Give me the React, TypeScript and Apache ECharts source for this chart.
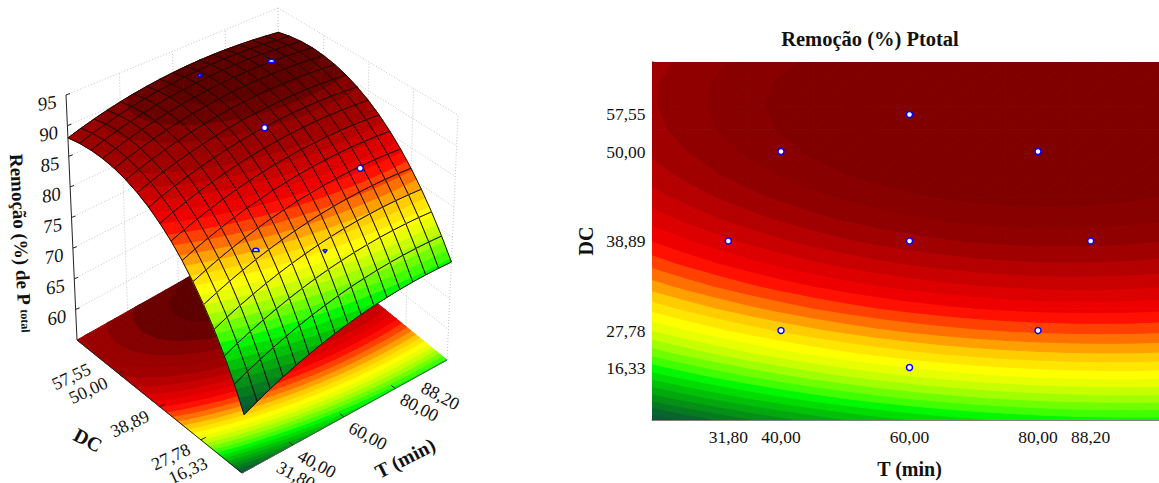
import React, { useEffect, useRef } from "react";
import * as echarts from "echarts";

const tGrid = [20, 25, 30, 35, 40, 45, 50, 55, 60, 65, 70, 75, 80, 85, 90, 95, 100];
const dcGrid = [-2, -1.75, -1.5, -1.25, -1, -0.75, -0.5, -0.25, 0, 0.25, 0.5, 0.75, 1, 1.25, 1.5, 1.75, 2];
const removal = [
  [63.59, 64.54, 65.43, 66.25, 67.00, 67.69, 68.32, 68.88, 69.38, 69.81, 70.17, 70.47, 70.71, 70.88, 70.98, 71.02, 71.00],
  [66.90, 67.84, 68.70, 69.50, 70.24, 70.91, 71.52, 72.06, 72.54, 72.95, 73.29, 73.57, 73.79, 73.94, 74.03, 74.05, 74.01],
  [69.98, 70.89, 71.74, 72.52, 73.24, 73.89, 74.48, 75.00, 75.46, 75.85, 76.18, 76.44, 76.64, 76.77, 76.84, 76.84, 76.77],
  [72.81, 73.71, 74.54, 75.30, 76.00, 76.63, 77.20, 77.70, 78.14, 78.51, 78.82, 79.06, 79.24, 79.36, 79.40, 79.39, 79.30],
  [75.41, 76.29, 77.10, 77.84, 78.52, 79.13, 79.68, 80.17, 80.58, 80.94, 81.23, 81.45, 81.61, 81.70, 81.73, 81.70, 81.60],
  [77.77, 78.63, 79.42, 80.14, 80.80, 81.40, 81.93, 82.39, 82.79, 83.12, 83.39, 83.60, 83.74, 83.81, 83.82, 83.77, 83.65],
  [79.89, 80.73, 81.50, 82.20, 82.85, 83.42, 83.93, 84.38, 84.76, 85.07, 85.33, 85.51, 85.63, 85.69, 85.68, 85.60, 85.46],
  [81.78, 82.59, 83.34, 84.03, 84.65, 85.21, 85.70, 86.13, 86.49, 86.78, 87.02, 87.18, 87.28, 87.32, 87.29, 87.20, 87.04],
  [83.42, 84.22, 84.95, 85.62, 86.22, 86.76, 87.23, 87.64, 87.98, 88.26, 88.47, 88.62, 88.70, 88.72, 88.67, 88.56, 88.38],
  [84.83, 85.60, 86.32, 86.97, 87.55, 88.07, 88.52, 88.91, 89.23, 89.49, 89.69, 89.81, 89.88, 89.88, 89.81, 89.68, 89.48],
  [85.99, 86.75, 87.45, 88.08, 88.64, 89.14, 89.58, 89.94, 90.25, 90.49, 90.66, 90.77, 90.82, 90.79, 90.71, 90.56, 90.34],
  [86.92, 87.66, 88.34, 88.95, 89.50, 89.98, 90.39, 90.74, 91.03, 91.25, 91.40, 91.49, 91.52, 91.48, 91.37, 91.20, 90.97],
  [87.62, 88.34, 88.99, 89.58, 90.11, 90.57, 90.97, 91.30, 91.56, 91.77, 91.90, 91.97, 91.98, 91.92, 91.80, 91.61, 91.35],
  [88.07, 88.77, 89.41, 89.98, 90.49, 90.93, 91.31, 91.62, 91.86, 92.05, 92.16, 92.22, 92.20, 92.12, 91.98, 91.77, 91.50],
  [88.28, 88.97, 89.59, 90.14, 90.63, 91.05, 91.41, 91.70, 91.93, 92.09, 92.19, 92.22, 92.19, 92.09, 91.93, 91.70, 91.41],
  [88.26, 88.93, 89.52, 90.06, 90.53, 90.93, 91.27, 91.54, 91.75, 91.89, 91.97, 91.99, 91.94, 91.82, 91.64, 91.39, 91.08],
  [88.00, 88.64, 89.22, 89.74, 90.19, 90.57, 90.89, 91.15, 91.34, 91.46, 91.52, 91.51, 91.44, 91.31, 91.11, 90.84, 90.52],
];

const bandLevels = [63.4, 64.4, 65.4, 66.4, 67.4, 68.4, 69.4, 70.4, 71.4, 72.4, 73.4, 74.4, 75.4, 76.4, 77.4, 78.4, 79.4, 80.4, 81.4, 82.4, 83.4, 84.4, 85.4, 86.4, 87.4, 88.4, 89.4, 90.4, 91.4];
const lowBandColors = ["#0b5a34", "#08652d", "#067a20", "#049016", "#02a80e", "#01c008", "#00dc00", "#00f800", "#40ff00", "#70ff00", "#a0ff00", "#c8ff00", "#e8ff00", "#ffff00", "#ffe600", "#ffcc00", "#ffa000", "#ff7000", "#ff4000", "#ff1000", "#ee0000", "#dd0000", "#c80000", "#b40000", "#a00000"];
const contourTopColors = ["#900000", "#880000", "#800000", "#800000"];
const surfaceTopColors = ["#990000", "#850000", "#6a0000", "#5e0000"];
const contourColors = [...lowBandColors, ...contourTopColors];
const surfaceColors = [...lowBandColors, ...surfaceTopColors];

const pointsT = [31.8, 40, 40, 60, 60, 60, 80, 80, 88.2];
const pointsDC = [0, -1, 1, -1.414, 0, 1.414, -1, 1, 0];
const pointsZ = [83, 79.8, 88, 77.7, 91.3, 93.3, 85.5, 94, 87];
// How much of each design point the surface leaves visible in the 3D view.
const pointsShown = [0, 0.5, 0, 0.2, 1, 0.2, 1, 0.5, 0];

const tTickLabels = [31.8, 40, 60, 80, 88.2];
const tTickMarks = [40, 60, 80];
const tTopTicks = [30, 40, 50, 60, 70, 80, 90];
const dcPositions = [-1.414, -1, 0, 1, 1.414];
const dcLabels = ["16,33", "27,78", "38,89", "50,00", "57,55"];
const dcTickMarks = [-1, 0, 1];
const zTicks = [60, 65, 70, 75, 80, 85, 90, 95];
const wallT = [40, 60, 80];
const wallDC = [-1, 0, 1];

const SERIF = '"Liberation Serif", serif';
const Z_MIN = 55;
const Z_MAX = 95;

type Pt = [number, number];
function homography(p0: Pt, p1: Pt, p2: Pt, p3: Pt) {
  const dx1 = p1[0] - p2[0], dx2 = p3[0] - p2[0], sx = p0[0] - p1[0] + p2[0] - p3[0];
  const dy1 = p1[1] - p2[1], dy2 = p3[1] - p2[1], sy = p0[1] - p1[1] + p2[1] - p3[1];
  const det = dx1 * dy2 - dx2 * dy1;
  const g = (sx * dy2 - dx2 * sy) / det;
  const h = (dx1 * sy - sx * dy1) / det;
  const a = p1[0] - p0[0] + g * p1[0], b = p3[0] - p0[0] + h * p3[0], c = p0[0];
  const d = p1[1] - p0[1] + g * p1[1], e = p3[1] - p0[1] + h * p3[1], f = p0[1];
  return (u: number, v: number): Pt => {
    const w = g * u + h * v + 1;
    return [(a * u + b * v + c) / w, (d * u + e * v + f) / w];
  };
}
const floorMap = homography([242, 473], [447, 360], [281, 225], [77, 340]);
const topMap = homography([252, 201], [458, 115], [278, 8], [66, 95]);
function proj(t: number, dc: number, z: number): Pt {
  const u = (t - 20) / 80;
  const v = (dc + 2) / 4;
  const a = floorMap(u, v);
  const b = topMap(u, v);
  const w = (z - Z_MIN) / (Z_MAX - Z_MIN);
  return [a[0] + (b[0] - a[0]) * w, a[1] + (b[1] - a[1]) * w];
}

type V = [number, number, number];
function clipPoly(poly: V[], lim: number, above: boolean): V[] {
  const out: V[] = [];
  for (let i = 0; i < poly.length; i++) {
    const a = poly[i];
    const b = poly[(i + 1) % poly.length];
    const ia = above ? a[2] >= lim : a[2] <= lim;
    const ib = above ? b[2] >= lim : b[2] <= lim;
    if (ia) out.push(a);
    if (ia !== ib) {
      const s = (lim - a[2]) / (b[2] - a[2]);
      out.push([a[0] + (b[0] - a[0]) * s, a[1] + (b[1] - a[1]) * s, lim]);
    }
  }
  return out;
}
type Piece = { band: number; pts: V[] };
// One cell cut into value bands; each piece runs a little into the next band,
// which is painted over it afterwards, so no seam shows between bands.
function cellBands(i: number, j: number): Piece[] {
  const n = (r: number, c: number): V => [tGrid[c], dcGrid[r], removal[r][c]];
  const a = n(j, i), b = n(j, i + 1), c = n(j + 1, i + 1), d = n(j + 1, i);
  const res: Piece[] = [];
  [[a, b, c], [a, c, d]].forEach((tri) => {
    bandLevels.forEach((lo, k) => {
      let p = clipPoly(tri, lo, true);
      if (k < bandLevels.length - 1 && p.length) p = clipPoly(p, bandLevels[k + 1] + 0.15, false);
      if (p.length >= 3) res.push({ band: k, pts: p });
    });
  });
  return res.sort((x, y) => x.band - y.band);
}
const cells: [number, number][] = [];
for (let j = 0; j < dcGrid.length - 1; j++) for (let i = 0; i < tGrid.length - 1; i++) cells.push([i, j]);
const cellPieces = cells.map(([i, j]) => cellBands(i, j));
const flatPieces: Piece[] = cellPieces.flat().sort((x, y) => x.band - y.band);
const paintOrder = cells.map((c, idx) => ({ d: c[0] + c[1], idx })).sort((a, b) => b.d - a.d).map((o) => o.idx);

const poly = (pts: Pt[], fill: string, stroke: string, lineWidth: number) => ({
  type: "polygon",
  shape: { points: pts },
  style: { fill, stroke, lineWidth },
  silent: true,
});
const seg = (a: Pt, b: Pt, stroke: string, lineWidth: number, dash?: number[]) => ({
  type: "line",
  shape: { x1: a[0], y1: a[1], x2: b[0], y2: b[1] },
  style: { stroke, lineWidth, lineDash: dash, fill: "none" },
  silent: true,
});
const label = (text: string, x: number, y: number, rot: number, font: string, rich?: any) => ({
  type: "text",
  x,
  y,
  rotation: (rot * Math.PI) / 180,
  style: { text, x: 0, y: 0, font, fill: "#111", align: "center", verticalAlign: "middle", rich },
  silent: true,
});

const fmt = (v: number) => v.toFixed(2).replace(".", ",");

function wallsElements() {
  const out: any[] = [];
  const D = [1, 2];
  const c = "#c4c4c4";
  const T0 = 20, T1 = 100, D0 = -2, D1 = 2;
  zTicks.forEach((z) => {
    out.push(seg(proj(T0, D1, z), proj(T1, D1, z), c, 1, D));
    out.push(seg(proj(T1, D1, z), proj(T1, D0, z), c, 1, D));
  });
  wallT.forEach((t) => out.push(seg(proj(t, D1, Z_MIN), proj(t, D1, Z_MAX), c, 1, D)));
  wallDC.forEach((d) => out.push(seg(proj(T1, d, Z_MIN), proj(T1, d, Z_MAX), c, 1, D)));
  out.push(seg(proj(T1, D1, Z_MIN), proj(T1, D1, Z_MAX), c, 1, D));
  out.push(seg(proj(T1, D0, Z_MIN), proj(T1, D0, Z_MAX), c, 1, D));
  return out;
}
function axesElements() {
  const out: any[] = [];
  const ink = "#222";
  out.push(seg(proj(20, 2, Z_MIN), proj(20, 2, Z_MAX), ink, 1));
  out.push(seg(proj(20, -2, Z_MIN), proj(20, 2, Z_MIN), ink, 1));
  out.push(seg(proj(20, -2, Z_MIN), proj(100, -2, Z_MIN), "#555", 1));
  zTicks.forEach((z) => {
    const p = proj(20, 2, z);
    out.push(seg(p, [p[0] + 4, p[1] - 1.5], ink, 1));
    out.push(label(String(z), p[0] - 19, p[1] + 8, 10, `italic 19px ${SERIF}`));
  });
  tTickMarks.forEach((t) => {
    const p = proj(t, -2, Z_MIN);
    out.push(seg(p, [p[0] - 4, p[1] - 3], ink, 1));
  });
  dcTickMarks.forEach((d) => {
    const p = proj(20, d, Z_MIN);
    out.push(seg(p, [p[0] + 5, p[1] - 2.5], ink, 1));
  });
  tTickLabels.forEach((t) => {
    const p = proj(t, -2, Z_MIN);
    out.push(label(fmt(t), p[0] + 24, p[1] + 19, -28, `18px ${SERIF}`));
  });
  dcPositions.forEach((d, i) => {
    const p = proj(20, d, Z_MIN);
    out.push(label(dcLabels[i], p[0] - 30, p[1] + 17, 25, `18px ${SERIF}`));
  });
  out.push(label("DC", 88, 440, -28, `bold 20px ${SERIF}`));
  out.push(label("T (min)", 405, 458, 27, `bold 20px ${SERIF}`));
  out.push(
    label("{a|Remoção (%) de P }{b|total}", 21, 243, -87, `bold 19px ${SERIF}`, {
      a: { font: `bold 19px ${SERIF}`, fill: "#111" },
      b: { font: `bold 12px ${SERIF}`, fill: "#111" },
    })
  );
  return out;
}
function dotElement(k: number) {
  const p = proj(pointsT[k], pointsDC[k], pointsZ[k]);
  const shown = pointsShown[k];
  const style = { fill: "#fff", stroke: "#0000ff", lineWidth: 1.5 };
  if (shown >= 1) return { type: "circle", shape: { cx: p[0], cy: p[1], r: 3 }, style, silent: true };
  const half = shown * Math.PI;
  return {
    type: "sector",
    shape: {
      cx: p[0],
      cy: p[1],
      r: 3.2,
      r0: 0,
      startAngle: (3 * Math.PI) / 2 - half,
      endAngle: (3 * Math.PI) / 2 + half,
    },
    style,
    silent: true,
  };
}

export default function App() {
  const ref = useRef<HTMLDivElement>(null);
  useEffect(() => {
    const chart = echarts.init(ref.current!, undefined, { renderer: "svg" });
    const walls = wallsElements();
    const axes = axesElements();
    const shownDots = pointsT.map((_, k) => k).filter((k) => pointsShown[k] > 0);
    const option: any = {
      animation: false,
      backgroundColor: "#fff",
      title: {
        text: "Remoção (%) Ptotal",
        left: 865,
        top: 23,
        textAlign: "center",
        textStyle: { fontFamily: SERIF, fontWeight: "bold", fontSize: 20.5, color: "#111" },
      },
      grid: { left: 652.5, top: 62, width: 514, height: 358, containLabel: false, outerBoundsMode: "none" },
      xAxis: [
        {
          type: "value",
          min: 20,
          max: 100,
          position: "bottom",
          name: "T (min)",
          nameLocation: "middle",
          nameGap: 39,
          nameTextStyle: { fontFamily: SERIF, fontWeight: "bold", fontSize: 20, color: "#111" },
          axisLine: { onZero: false, lineStyle: { color: "#808080", width: 2 } },
          axisTick: { customValues: tTickMarks, inside: true, length: 4, lineStyle: { color: "#222" } },
          axisLabel: {
            customValues: tTickLabels,
            margin: 8,
            fontFamily: SERIF,
            fontSize: 17.5,
            color: "#111",
            formatter: (v: number) => fmt(v),
          },
          splitLine: { show: false },
        },
        {
          type: "value",
          min: 20,
          max: 100,
          position: "top",
          axisLine: { onZero: false, lineStyle: { color: "#a0a0a0", width: 1 } },
          axisTick: { customValues: tTopTicks, inside: true, length: 4, lineStyle: { color: "#222" } },
          axisLabel: { show: false },
          splitLine: { show: false },
        },
      ],
      yAxis: {
        type: "value",
        min: -2,
        max: 2,
        position: "left",
        name: "DC",
        nameLocation: "middle",
        nameGap: 57,
        nameTextStyle: { fontFamily: SERIF, fontWeight: "bold", fontSize: 20, color: "#111" },
        axisLine: { onZero: false, lineStyle: { color: "#808080", width: 2 } },
        axisTick: { customValues: dcTickMarks, inside: true, length: 4, lineStyle: { color: "#222" } },
        axisLabel: {
          customValues: dcPositions,
          margin: 7,
          fontFamily: SERIF,
          fontSize: 17.5,
          color: "#111",
          formatter: (v: number) => dcLabels[dcPositions.indexOf(v)],
        },
        splitLine: { show: false },
      },
      series: [
        {
          type: "custom",
          coordinateSystem: "cartesian2d",
          xAxisIndex: 0,
          yAxisIndex: 0,
          silent: true,
          z: 1,
          clip: true,
          data: flatPieces.map((p) => [p.pts[0][0], p.pts[0][1]]),
          encode: { x: 0, y: 1 },
          renderItem: (params: any, api: any) => {
            const b = flatPieces[params.dataIndex];
            const c = contourColors[b.band];
            return poly(b.pts.map((p) => api.coord([p[0], p[1]]) as Pt), c, c, 1);
          },
        },
        {
          type: "scatter",
          xAxisIndex: 0,
          yAxisIndex: 0,
          silent: true,
          z: 3,
          symbol: "circle",
          symbolSize: 6,
          itemStyle: { color: "#fff", borderColor: "#0000ff", borderWidth: 1.5, opacity: 1 },
          data: pointsT.map((t, k) => [t, pointsDC[k]]),
        },
        {
          type: "custom",
          coordinateSystem: "none",
          silent: true,
          z: 1,
          data: [[0]],
          renderItem: () => ({ type: "group", children: walls }),
        },
        {
          type: "custom",
          coordinateSystem: "none",
          silent: true,
          z: 2,
          data: flatPieces.map((_, i) => [i]),
          renderItem: (params: any) => {
            const b = flatPieces[params.dataIndex];
            const c = surfaceColors[b.band];
            return poly(b.pts.map((p) => proj(p[0], p[1], Z_MIN)), c, c, 1);
          },
        },
        {
          type: "custom",
          coordinateSystem: "none",
          silent: true,
          z: 3,
          data: [[0]],
          renderItem: () => ({ type: "group", children: axes }),
        },
        {
          type: "custom",
          coordinateSystem: "none",
          silent: true,
          z: 4,
          data: paintOrder.map((idx) => [idx]),
          renderItem: (params: any) => {
            const idx = paintOrder[params.dataIndex];
            const [i, j] = cells[idx];
            const bands = cellPieces[idx].map((b) => {
              const c = surfaceColors[b.band];
              return poly(b.pts.map((p) => proj(p[0], p[1], p[2])), c, c, 0.8);
            });
            const outline = [
              proj(tGrid[i], dcGrid[j], removal[j][i]),
              proj(tGrid[i + 1], dcGrid[j], removal[j][i + 1]),
              proj(tGrid[i + 1], dcGrid[j + 1], removal[j + 1][i + 1]),
              proj(tGrid[i], dcGrid[j + 1], removal[j + 1][i]),
            ];
            return { type: "group", children: [...bands, poly(outline, "none", "#1c0a00", 1)] };
          },
        },
        {
          type: "custom",
          coordinateSystem: "none",
          silent: true,
          z: 5,
          data: shownDots.map((k) => [k]),
          renderItem: (params: any) => dotElement(shownDots[params.dataIndex]),
        },
      ],
    };
    chart.setOption(option);
    return () => chart.dispose();
  }, []);
  return <div ref={ref} style={{ position: "fixed", left: 0, top: 0, width: 1159, height: 483 }} />;
}
